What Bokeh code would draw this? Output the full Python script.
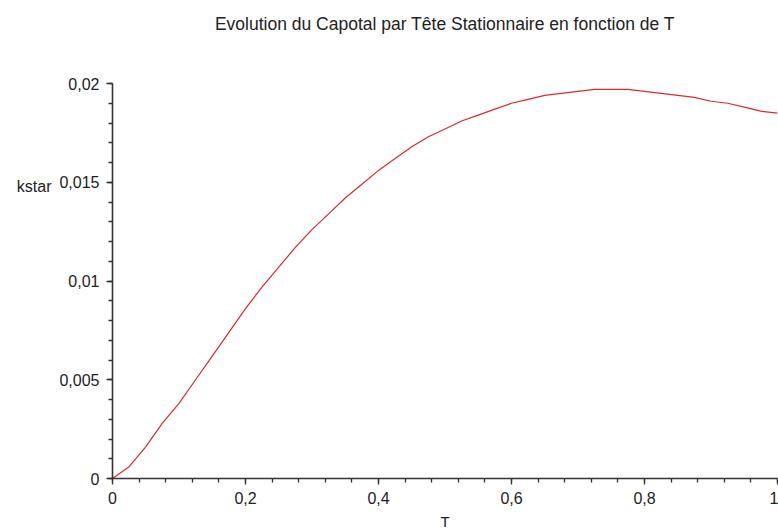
from bokeh.plotting import figure
from bokeh.models import Range1d, FixedTicker, LinearAxis, ColumnDataSource
from bokeh.embed import file_html
from bokeh.resources import INLINE

# ---- data ----
T = [0.0, 0.025, 0.05, 0.075, 0.10, 0.125, 0.15, 0.175, 0.20, 0.225, 0.25,
     0.275, 0.30, 0.325, 0.35, 0.375, 0.40, 0.425, 0.45, 0.475, 0.50,
     0.525, 0.55, 0.575, 0.60, 0.625, 0.65, 0.675, 0.70, 0.725, 0.75,
     0.775, 0.80, 0.825, 0.85, 0.875, 0.90, 0.925, 0.95, 0.975, 1.0]
kstar = [0.0, 0.0006, 0.0016, 0.0028, 0.0038, 0.0050, 0.0062, 0.0074, 0.0086, 0.0097, 0.0107,
         0.0117, 0.0126, 0.0134, 0.0142, 0.0149, 0.0156, 0.0162, 0.0168, 0.0173, 0.0177,
         0.0181, 0.0184, 0.0187, 0.0190, 0.0192, 0.0194, 0.0195, 0.0196, 0.0197, 0.0197,
         0.0197, 0.0196, 0.0195, 0.0194, 0.0193, 0.0191, 0.0190, 0.0188, 0.0186, 0.0185]

x_ticks = [0, 0.2, 0.4, 0.6, 0.8, 1.0]
x_tick_labels = ["0", "0,2", "0,4", "0,6", "0,8", "1"]
x_minor = [i * 0.04 for i in range(26)]
y_ticks = [0, 0.005, 0.01, 0.015, 0.02]
y_tick_labels = ["0", "0,005", "0,01", "0,015", "0,02"]
y_minor = [i * 0.001 for i in range(21)]

title_text = "Evolution du Capotal par Tête Stationnaire en fonction de T"
x_label = "T"
y_label = "kstar"

FONT = "Liberation Sans"
TXT = "#222222"

p = figure(width=778, height=532, output_backend="svg", toolbar_location=None,
           x_range=Range1d(0, 1), y_range=Range1d(0, 0.02),
           min_border_left=112, min_border_right=1, min_border_top=83, min_border_bottom=53,
           background_fill_color="white", border_fill_color="white")
p.title.visible = False
p.outline_line_color = None
p.xgrid.visible = False
p.ygrid.visible = False

src = ColumnDataSource(dict(T=T, k=kstar))
p.line("T", "k", source=src, line_color="#dd2a2a", line_width=1.2)

for ax, ticks, labels, minor in ((p.xaxis[0], x_ticks, x_tick_labels, x_minor),
                                 (p.yaxis[0], y_ticks, y_tick_labels, y_minor)):
    ax.ticker = FixedTicker(ticks=ticks, minor_ticks=minor)
    ax.major_label_overrides = {t: l for t, l in zip(ticks, labels)}
    ax.axis_line_color = "#333333"
    ax.axis_line_width = 1.6
    ax.major_tick_line_color = "#333333"
    ax.minor_tick_line_color = "#333333"
    ax.major_tick_line_width = 1.3
    ax.minor_tick_line_width = 1.3
    ax.major_tick_in = 0
    ax.major_tick_out = 6
    ax.minor_tick_in = 0
    ax.minor_tick_out = 4
    ax.major_label_text_font = FONT
    ax.major_label_text_font_size = "16px"
    ax.major_label_text_color = TXT

p.xaxis.major_label_standoff = 7
p.yaxis.major_label_standoff = 7
p.xaxis.axis_label = x_label
p.xaxis.axis_label_standoff = 6
p.xaxis.axis_label_text_font = FONT
p.xaxis.axis_label_text_font_size = "15px"
p.xaxis.axis_label_text_line_height = 1.0
p.xaxis.axis_label_text_font_style = "normal"
p.xaxis.axis_label_text_color = TXT

# extra left axis, only to carry the "kstar" label beside the 0,015 level
lab_ax = LinearAxis(ticker=FixedTicker(ticks=[]),
                    axis_line_color=None, major_tick_line_color=None,
                    minor_tick_line_color=None, axis_label=y_label + "\n ",
                    axis_label_orientation="horizontal", axis_label_standoff=5,
                    axis_label_text_font=FONT, axis_label_text_font_size="16px",
                    axis_label_text_line_height=11.1,
                    axis_label_text_font_style="normal", axis_label_text_color=TXT)
p.add_layout(lab_ax, "left")

# extra top axis, only to carry the title centred over the plot area
title_ax = LinearAxis(ticker=FixedTicker(ticks=[]),
                      axis_line_color=None, major_tick_line_color=None,
                      minor_tick_line_color=None, axis_label=title_text,
                      axis_label_standoff=50,
                      axis_label_text_font=FONT, axis_label_text_font_size="17.5px",
                      axis_label_text_font_style="normal", axis_label_text_color=TXT)
p.add_layout(title_ax, "above")

open("out.html", "w").write(file_html(p, INLINE))
